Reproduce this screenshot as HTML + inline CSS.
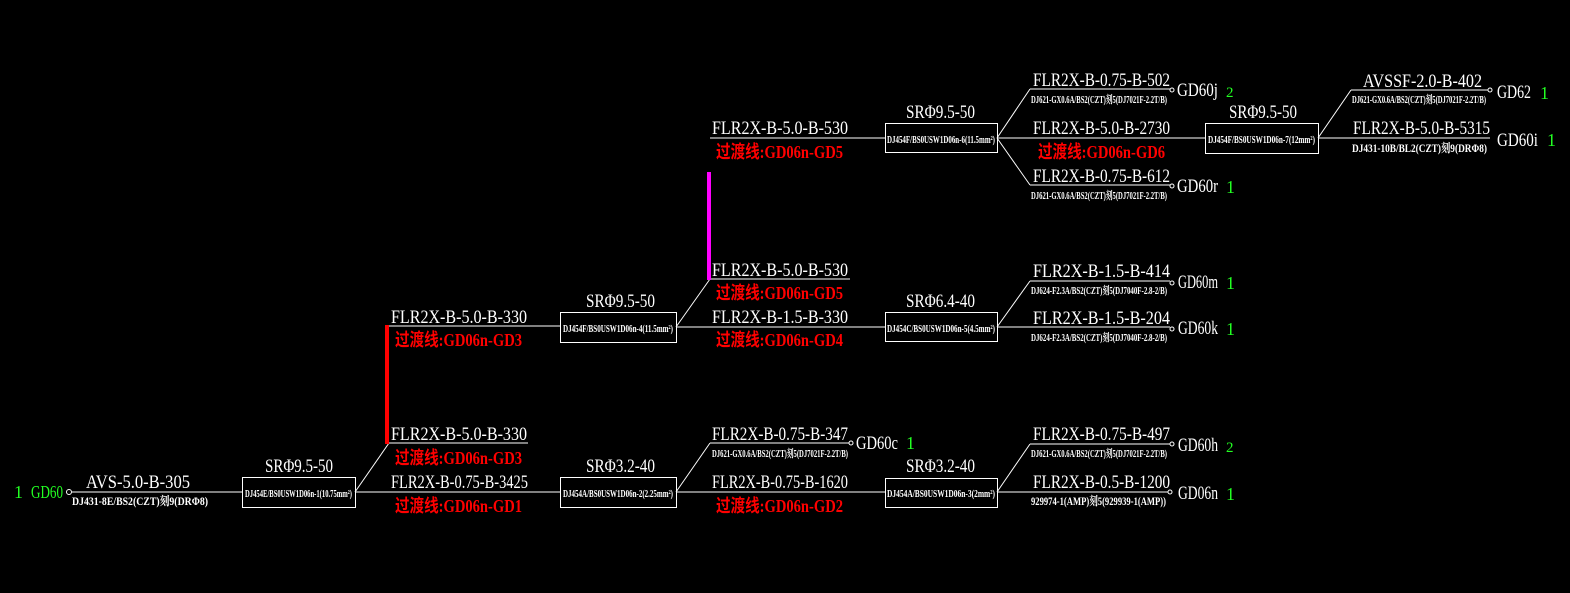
<!DOCTYPE html>
<html><head><meta charset="utf-8"><style>
html,body{margin:0;padding:0;background:#000;}
svg{display:block}
text{font-family:"Liberation Serif","Noto Serif CJK SC",serif;fill:#fff;}
.l{font-size:19px}
.r{font-size:18px;fill:#f00;font-weight:bold;font-family:"Liberation Serif","Noto Sans CJK SC",sans-serif}
.s{font-size:12px;font-weight:bold}
.b{font-size:11px;font-weight:bold}
.g{font-size:18px;fill:#2f2}
.n{font-size:19px}
</style></head><body>
<svg width="1570" height="593" viewBox="0 0 1570 593" xmlns="http://www.w3.org/2000/svg">
<g stroke="#fff" stroke-width="1" fill="none">
<line x1="72" y1="492" x2="242" y2="492"/>
<circle cx="69" cy="492" r="2.5"/>
<rect x="242.5" y="477.5" width="113" height="30"/>
<line x1="355" y1="492" x2="560" y2="492"/>
<line x1="355" y1="492" x2="389" y2="443"/>
<line x1="389" y1="443" x2="528" y2="443"/>
<line x1="388" y1="326" x2="560" y2="326"/>
<rect x="560.5" y="312.5" width="116" height="30"/>
<rect x="560.5" y="477.5" width="116" height="30"/>
<line x1="676" y1="327" x2="885" y2="327"/>
<line x1="676" y1="327" x2="710" y2="279"/>
<line x1="710" y1="279" x2="850" y2="279"/>
<line x1="710" y1="138" x2="885" y2="138"/>
<rect x="885.5" y="312.5" width="112" height="29"/>
<rect x="885.5" y="123.5" width="112" height="29"/>
<line x1="676" y1="492" x2="885" y2="492"/>
<line x1="676" y1="492" x2="710" y2="443"/>
<line x1="710" y1="443" x2="849" y2="443"/>
<circle cx="851" cy="443" r="2"/>
<rect x="885.5" y="478.5" width="112" height="29"/>
<line x1="997" y1="492" x2="1168" y2="492"/>
<circle cx="1170" cy="492" r="2"/>
<line x1="997" y1="492" x2="1030" y2="444"/>
<line x1="1030" y1="444" x2="1170" y2="444"/>
<circle cx="1172" cy="444" r="2"/>
<line x1="997" y1="327" x2="1170" y2="327"/>
<circle cx="1172" cy="329" r="2"/>
<line x1="997" y1="327" x2="1030" y2="281"/>
<line x1="1030" y1="281" x2="1170" y2="281"/>
<circle cx="1172" cy="283" r="2"/>
<line x1="997" y1="138" x2="1205" y2="138"/>
<line x1="997" y1="138" x2="1030" y2="89"/>
<line x1="1030" y1="89" x2="1170" y2="89"/>
<circle cx="1172" cy="90" r="2"/>
<line x1="997" y1="138" x2="1030" y2="185"/>
<line x1="1030" y1="185" x2="1170" y2="185"/>
<circle cx="1172" cy="186" r="2"/>
<rect x="1205.5" y="123.5" width="113" height="30"/>
<line x1="1318" y1="138" x2="1490" y2="138"/>
<line x1="1318" y1="138" x2="1351" y2="90"/>
<line x1="1351" y1="90" x2="1488" y2="90"/>
<circle cx="1490" cy="90" r="2"/>
</g>
<rect x="385" y="325" width="4" height="119" fill="#f00"/>
<rect x="707" y="172" width="4" height="108" fill="#f0f"/>

<text class="g" x="14" y="498">1</text>
<text class="g" x="31" y="498" textLength="32" lengthAdjust="spacingAndGlyphs">GD60</text>
<text class="l" x="86" y="488" textLength="104" lengthAdjust="spacingAndGlyphs">AVS-5.0-B-305</text>
<text class="s" x="72" y="505" textLength="136" lengthAdjust="spacingAndGlyphs">DJ431-8E/BS2(CZT)刻9(DRΦ8)</text>
<text class="l" x="265" y="472" textLength="68" lengthAdjust="spacingAndGlyphs">SRΦ9.5-50</text>
<text class="b" x="245" y="497" textLength="107" lengthAdjust="spacingAndGlyphs">DJ454E/BS0USW1D06n-1(10.75mm²)</text>

<text class="l" x="391" y="323" textLength="136" lengthAdjust="spacingAndGlyphs">FLR2X-B-5.0-B-330</text>
<text class="r" x="395" y="346" textLength="127" lengthAdjust="spacingAndGlyphs">过渡线:GD06n-GD3</text>
<text class="l" x="391" y="440" textLength="136" lengthAdjust="spacingAndGlyphs">FLR2X-B-5.0-B-330</text>
<text class="r" x="395" y="464" textLength="127" lengthAdjust="spacingAndGlyphs">过渡线:GD06n-GD3</text>
<text class="l" x="391" y="488" textLength="137" lengthAdjust="spacingAndGlyphs">FLR2X-B-0.75-B-3425</text>
<text class="r" x="395" y="512" textLength="127" lengthAdjust="spacingAndGlyphs">过渡线:GD06n-GD1</text>

<text class="l" x="586" y="307" textLength="69" lengthAdjust="spacingAndGlyphs">SRΦ9.5-50</text>
<text class="b" x="563" y="332" textLength="110" lengthAdjust="spacingAndGlyphs">DJ454F/BS0USW1D06n-4(11.5mm²)</text>
<text class="l" x="586" y="472" textLength="69" lengthAdjust="spacingAndGlyphs">SRΦ3.2-40</text>
<text class="b" x="563" y="497" textLength="110" lengthAdjust="spacingAndGlyphs">DJ454A/BS0USW1D06n-2(2.25mm²)</text>

<text class="l" x="712" y="134" textLength="136" lengthAdjust="spacingAndGlyphs">FLR2X-B-5.0-B-530</text>
<text class="r" x="716" y="158" textLength="127" lengthAdjust="spacingAndGlyphs">过渡线:GD06n-GD5</text>
<text class="l" x="712" y="276" textLength="136" lengthAdjust="spacingAndGlyphs">FLR2X-B-5.0-B-530</text>
<text class="r" x="716" y="299" textLength="127" lengthAdjust="spacingAndGlyphs">过渡线:GD06n-GD5</text>
<text class="l" x="712" y="323" textLength="136" lengthAdjust="spacingAndGlyphs">FLR2X-B-1.5-B-330</text>
<text class="r" x="716" y="346" textLength="127" lengthAdjust="spacingAndGlyphs">过渡线:GD06n-GD4</text>
<text class="l" x="712" y="440" textLength="136" lengthAdjust="spacingAndGlyphs">FLR2X-B-0.75-B-347</text>
<text class="b" x="712" y="457" textLength="136" lengthAdjust="spacingAndGlyphs">DJ621-GX0.6A/BS2(CZT)刻5(DJ7021F-2.2T/B)</text>
<text class="n" x="856" y="449" textLength="42" lengthAdjust="spacingAndGlyphs">GD60c</text>
<text class="g" x="906" y="449">1</text>
<text class="l" x="712" y="488" textLength="136" lengthAdjust="spacingAndGlyphs">FLR2X-B-0.75-B-1620</text>
<text class="r" x="716" y="512" textLength="127" lengthAdjust="spacingAndGlyphs">过渡线:GD06n-GD2</text>

<text class="l" x="906" y="118" textLength="69" lengthAdjust="spacingAndGlyphs">SRΦ9.5-50</text>
<text class="b" x="887" y="143" textLength="108" lengthAdjust="spacingAndGlyphs">DJ454F/BS0USW1D06n-6(11.5mm²)</text>
<text class="l" x="906" y="307" textLength="69" lengthAdjust="spacingAndGlyphs">SRΦ6.4-40</text>
<text class="b" x="887" y="332" textLength="108" lengthAdjust="spacingAndGlyphs">DJ454C/BS0USW1D06n-5(4.5mm²)</text>
<text class="l" x="906" y="472" textLength="69" lengthAdjust="spacingAndGlyphs">SRΦ3.2-40</text>
<text class="b" x="887" y="497" textLength="108" lengthAdjust="spacingAndGlyphs">DJ454A/BS0USW1D06n-3(2mm²)</text>

<text class="l" x="1033" y="86" textLength="137" lengthAdjust="spacingAndGlyphs">FLR2X-B-0.75-B-502</text>
<text class="b" x="1031" y="103" textLength="136" lengthAdjust="spacingAndGlyphs">DJ621-GX0.6A/BS2(CZT)刻5(DJ7021F-2.2T/B)</text>
<text class="n" x="1177" y="96" textLength="41" lengthAdjust="spacingAndGlyphs">GD60j</text>
<text class="g" x="1226" y="97" style="font-size:15px">2</text>
<text class="l" x="1033" y="134" textLength="137" lengthAdjust="spacingAndGlyphs">FLR2X-B-5.0-B-2730</text>
<text class="r" x="1038" y="158" textLength="127" lengthAdjust="spacingAndGlyphs">过渡线:GD06n-GD6</text>
<text class="l" x="1033" y="182" textLength="137" lengthAdjust="spacingAndGlyphs">FLR2X-B-0.75-B-612</text>
<text class="b" x="1031" y="199" textLength="136" lengthAdjust="spacingAndGlyphs">DJ621-GX0.6A/BS2(CZT)刻5(DJ7021F-2.2T/B)</text>
<text class="n" x="1177" y="192" textLength="41" lengthAdjust="spacingAndGlyphs">GD60r</text>
<text class="g" x="1226" y="193">1</text>

<text class="l" x="1033" y="277" textLength="137" lengthAdjust="spacingAndGlyphs">FLR2X-B-1.5-B-414</text>
<text class="b" x="1031" y="294" textLength="136" lengthAdjust="spacingAndGlyphs">DJ624-F2.3A/BS2(CZT)刻5(DJ7040F-2.8-2/B)</text>
<text class="n" x="1178" y="288" textLength="40" lengthAdjust="spacingAndGlyphs">GD60m</text>
<text class="g" x="1226" y="289">1</text>
<text class="l" x="1033" y="324" textLength="137" lengthAdjust="spacingAndGlyphs">FLR2X-B-1.5-B-204</text>
<text class="b" x="1031" y="341" textLength="136" lengthAdjust="spacingAndGlyphs">DJ624-F2.3A/BS2(CZT)刻5(DJ7040F-2.8-2/B)</text>
<text class="n" x="1178" y="334" textLength="40" lengthAdjust="spacingAndGlyphs">GD60k</text>
<text class="g" x="1226" y="335">1</text>

<text class="l" x="1033" y="440" textLength="137" lengthAdjust="spacingAndGlyphs">FLR2X-B-0.75-B-497</text>
<text class="b" x="1031" y="457" textLength="136" lengthAdjust="spacingAndGlyphs">DJ621-GX0.6A/BS2(CZT)刻5(DJ7021F-2.2T/B)</text>
<text class="n" x="1178" y="451" textLength="40" lengthAdjust="spacingAndGlyphs">GD60h</text>
<text class="g" x="1226" y="452" style="font-size:15px">2</text>
<text class="l" x="1033" y="488" textLength="137" lengthAdjust="spacingAndGlyphs">FLR2X-B-0.5-B-1200</text>
<text class="s" x="1031" y="505" textLength="135" lengthAdjust="spacingAndGlyphs">929974-1(AMP)刻5(929939-1(AMP))</text>
<text class="n" x="1178" y="499" textLength="40" lengthAdjust="spacingAndGlyphs">GD06n</text>
<text class="g" x="1226" y="500">1</text>

<text class="l" x="1229" y="118" textLength="68" lengthAdjust="spacingAndGlyphs">SRΦ9.5-50</text>
<text class="b" x="1208" y="143" textLength="107" lengthAdjust="spacingAndGlyphs">DJ454F/BS0USW1D06n-7(12mm²)</text>

<text class="l" x="1363" y="87" textLength="119" lengthAdjust="spacingAndGlyphs">AVSSF-2.0-B-402</text>
<text class="b" x="1352" y="103" textLength="134" lengthAdjust="spacingAndGlyphs">DJ621-GX0.6A/BS2(CZT)刻5(DJ7021F-2.2T/B)</text>
<text class="n" x="1497" y="98" textLength="34" lengthAdjust="spacingAndGlyphs">GD62</text>
<text class="g" x="1540" y="99">1</text>
<text class="l" x="1353" y="134" textLength="137" lengthAdjust="spacingAndGlyphs">FLR2X-B-5.0-B-5315</text>
<text class="s" x="1352" y="152" textLength="135" lengthAdjust="spacingAndGlyphs">DJ431-10B/BL2(CZT)刻9(DRΦ8)</text>
<text class="n" x="1497" y="146" textLength="41" lengthAdjust="spacingAndGlyphs">GD60i</text>
<text class="g" x="1547" y="146">1</text>
</svg>
</body></html>
